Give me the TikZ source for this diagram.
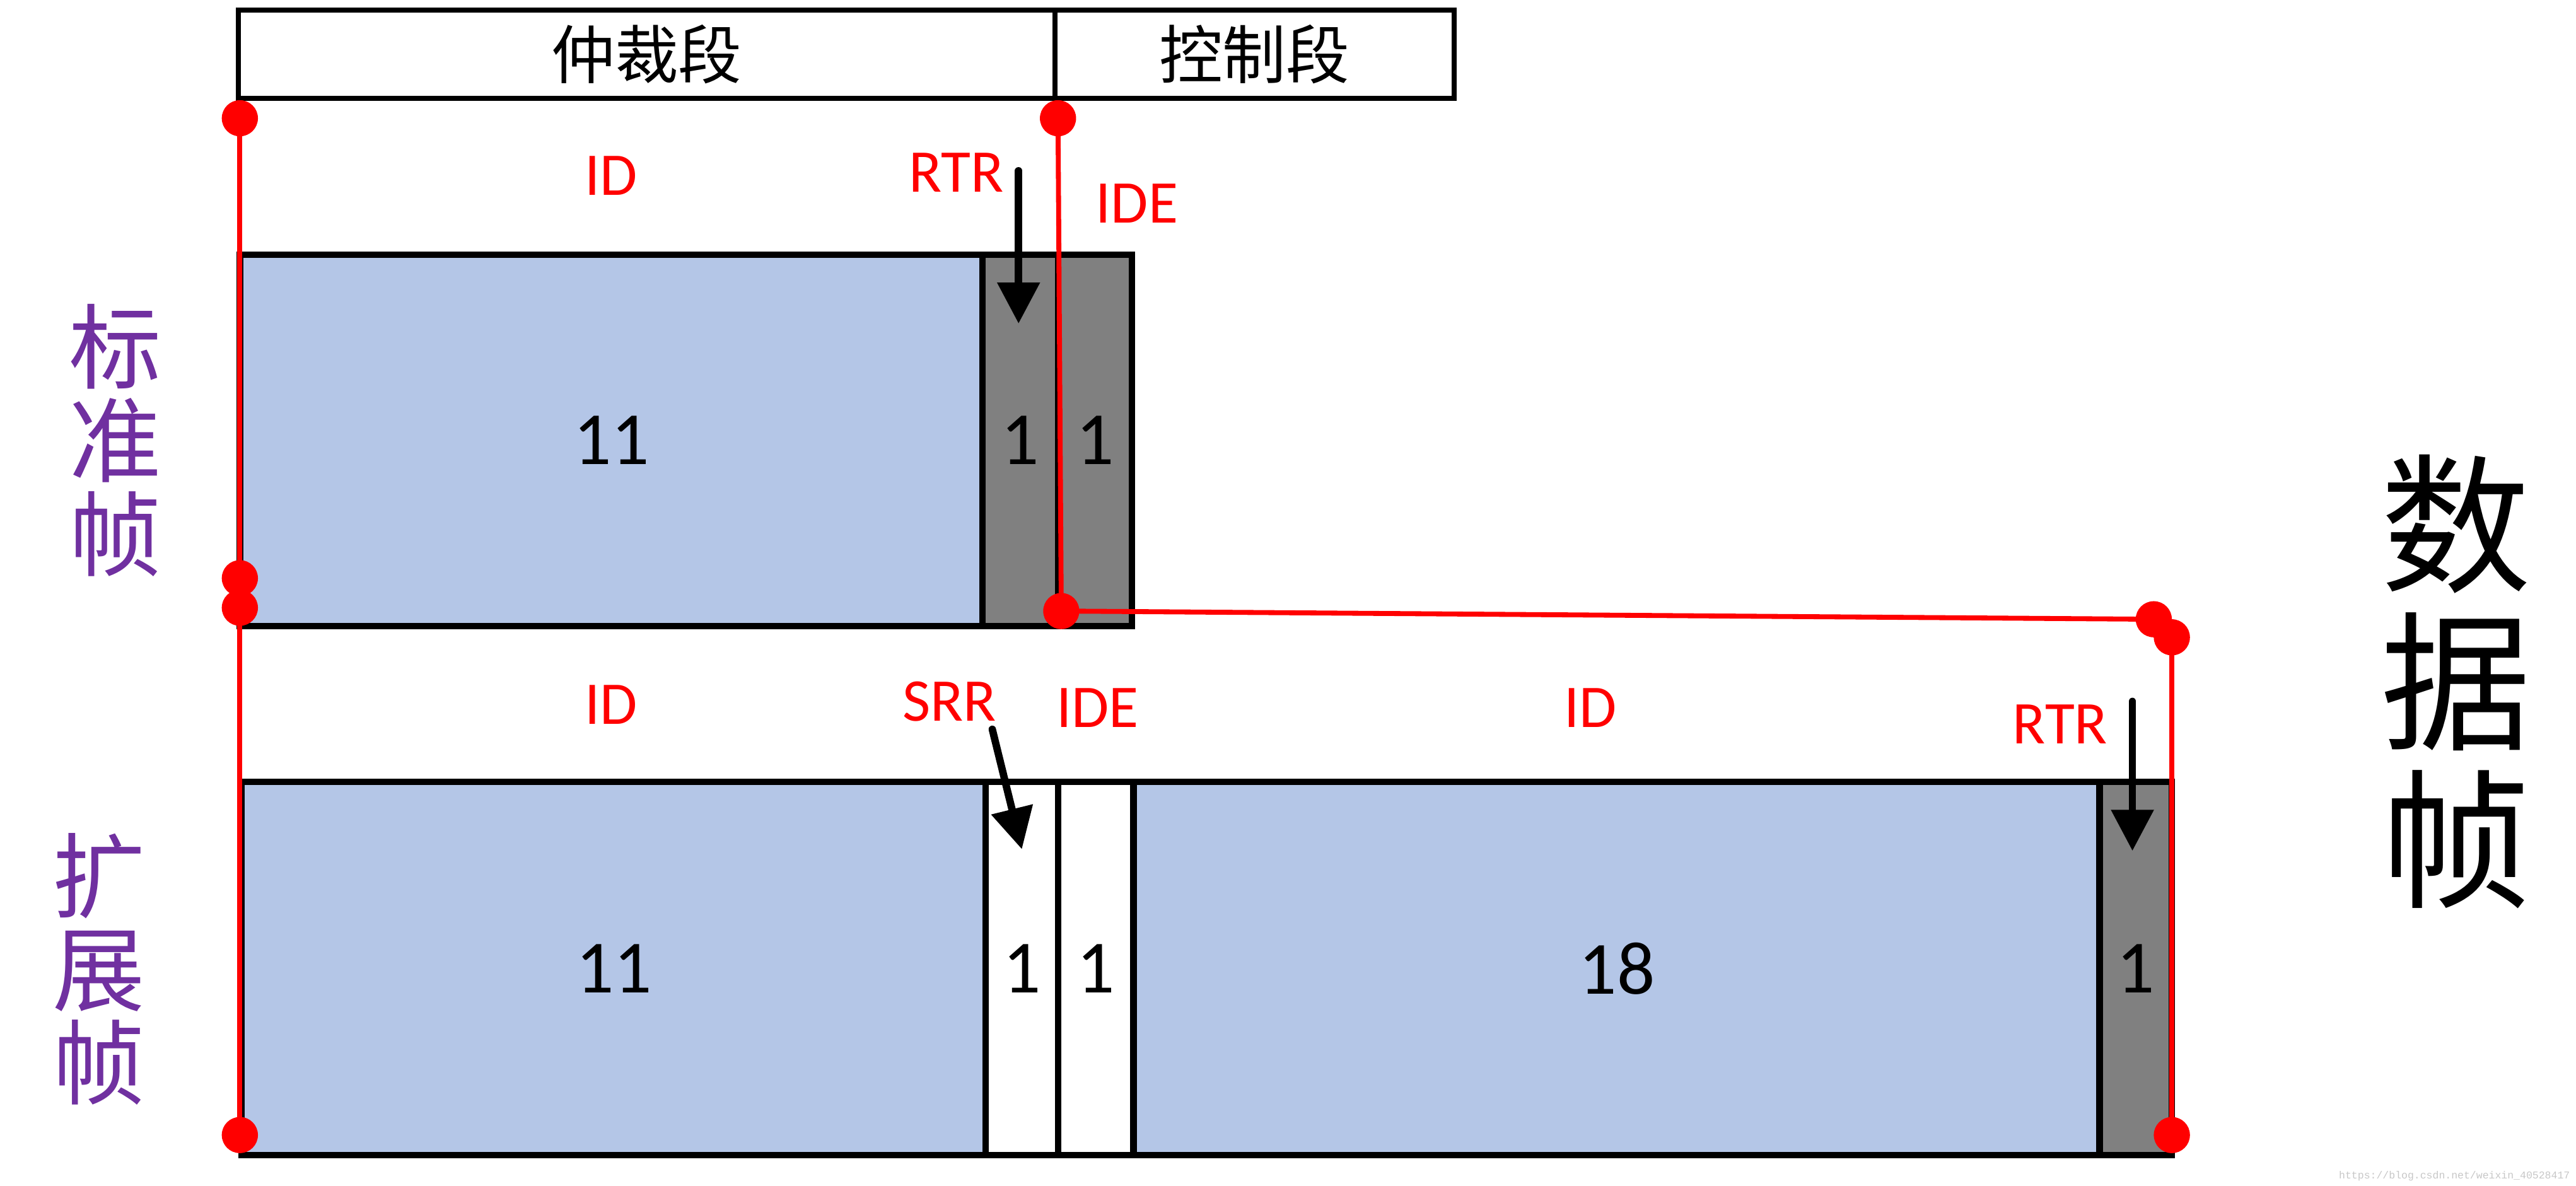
\documentclass[tikz,border=0pt]{standalone}
\usepackage{fontspec}
\setmainfont{Carlito}
\setmonofont{Liberation Mono}
\newfontfamily\cjk{Noto Sans CJK SC}
\usetikzlibrary{arrows.meta}
\definecolor{idblue}{HTML}{B4C6E7}
\definecolor{bitgray}{HTML}{808080}
\definecolor{labred}{HTML}{FF0000}
\definecolor{framepurple}{HTML}{7030A0}
\begin{document}
\begin{tikzpicture}[x=0.01cm,y=-0.01cm,
  cell/.style={draw=black,line width=0.04cm,inner sep=0pt,outer sep=0pt,anchor=north west,font=\fontsize{13}{15}\selectfont},
  hdr/.style={draw=black,line width=0.03cm,inner sep=0pt,outer sep=0pt,anchor=north west,minimum height=0.54cm,font=\cjk\fontsize{11}{13}\selectfont},
  lbl/.style={text=labred,font=\fontsize{10.5}{12}\selectfont,inner sep=0pt},
  rdot/.style={circle,fill=labred,inner sep=0pt,minimum size=0.22cm},
  rline/.style={draw=labred,line width=0.03cm},
  pointer/.style={-{Triangle[width=0.25cm,length=0.25cm]},line width=0.045cm,line cap=round},
  framelbl/.style={text=framepurple,font=\cjk\fontsize{16}{16.2}\selectfont,align=center,inner sep=0pt},
]
\useasboundingbox (0,0) rectangle (1568,722);

% header
\node[hdr,minimum width=4.97cm] (arb) at (145,6) {仲裁段};
\node[hdr,minimum width=2.43cm] (ctl) at (642,6) {控制段};

% standard frame
\node[cell,fill=idblue,minimum width=4.52cm,minimum height=2.26cm] (sid) at (146,155) {11};
\node[cell,fill=bitgray,minimum width=0.46cm,minimum height=2.26cm] (srtr) at (598,155) {1};
\node[cell,fill=bitgray,minimum width=0.45cm,minimum height=2.26cm] (sidebit) at (644,155) {1};

% extended frame
\node[cell,fill=idblue,minimum width=4.53cm,minimum height=2.27cm] (eid1) at (147,476) {11};
\node[cell,fill=white,minimum width=0.44cm,minimum height=2.27cm] (esrr) at (600,476) {1};
\node[cell,fill=white,minimum width=0.46cm,minimum height=2.27cm] (eide) at (644,476) {1};
\node[cell,fill=idblue,minimum width=5.88cm,minimum height=2.27cm] (eid2) at (690,476) {18};
\node[cell,fill=bitgray,minimum width=0.44cm,minimum height=2.27cm] (ertr) at (1278,476) {1};

% red labels
\node[lbl] (l1) at (372,107) {ID};
\node[lbl] (l2) at (582,105) {RTR};
\node[lbl] (l3) at (692,124) {IDE};
\node[lbl] (l4) at (372,429) {ID};
\node[lbl] (l5) at (578,427) {SRR};
\node[lbl] (l6) at (668,431) {IDE};
\node[lbl] (l7) at (968,431) {ID};
\node[lbl] (l8) at (1254,441) {RTR};

% arrows
\coordinate (a1s) at (620,104);
\coordinate (a1e) at (620,197);
\coordinate (a2s) at (604,444);
\coordinate (a2e) at (622,517);
\coordinate (a3s) at (1298,427);
\coordinate (a3e) at (1298,518);
\draw[pointer] (a1s) -- (a1e);
\draw[pointer] (a2s) -- (a2e);
\draw[pointer] (a3s) -- (a3e);

% red markers
\coordinate (pA) at (146,72);
\coordinate (pB) at (644,72);
\coordinate (pL1) at (146,352);
\coordinate (pL2) at (146,370);
\coordinate (pC) at (646,372);
\coordinate (pD) at (1311,377);
\coordinate (pE) at (1322,388);
\coordinate (pF) at (1322,691);
\coordinate (pG) at (146,691);
\draw[rline] (pA) -- (pG);
\draw[rline] (pB) -- (pC);
\draw[rline] (pC) -- (pD);
\draw[rline] (pE) -- (pF);
\node[rdot] (dA) at (pA) {};
\node[rdot] (dB) at (pB) {};
\node[rdot] (dL1) at (pL1) {};
\node[rdot] (dL2) at (pL2) {};
\node[rdot] (dC) at (pC) {};
\node[rdot] (dD) at (pD) {};
\node[rdot] (dE) at (pE) {};
\node[rdot] (dF) at (pF) {};
\node[rdot] (dG) at (pG) {};

% side labels
\node[framelbl] (std) at (70,268) {标\\准\\帧};
\node[framelbl] (ext) at (60,590) {扩\\展\\帧};
\node[font=\cjk\fontsize{26}{27.3}\selectfont,align=center,inner sep=0pt] (data) at (1495,415) {数\\据\\帧};

% watermark
\node[text=black!22,font=\ttfamily\fontsize{1.8}{2}\selectfont,anchor=east,inner sep=0pt] (wm) at (1565,716) {https://blog.csdn.net/weixin\_40528417};
\end{tikzpicture}
\end{document}
